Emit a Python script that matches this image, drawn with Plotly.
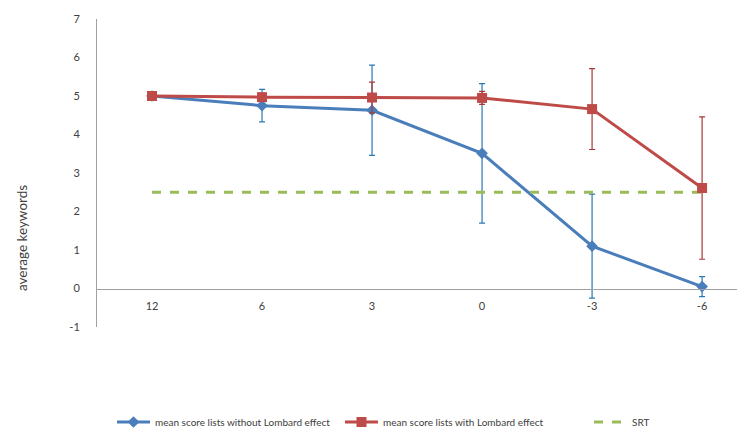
import plotly.graph_objects as go

categories = ["12", "6", "3", "0", "-3", "-6"]
without_lombard = [5.0, 4.75, 4.63, 3.51, 1.10, 0.05]
without_err = [0.0, 0.42, 1.17, 1.81, 1.35, 0.26]
with_lombard = [5.0, 4.97, 4.96, 4.95, 4.66, 2.61]
with_err = [0.0, 0.1, 0.40, 0.17, 1.05, 1.85]
srt = [2.5, 2.5, 2.5, 2.5, 2.5, 2.5]
yticks = [-1, 0, 1, 2, 3, 4, 5, 6, 7]
ytick_labels = ["-1", "0", "1", "2", "3", "4", "5", "6", "7"]

FONT = "Lato"
xs = list(range(len(categories)))

# page body has a default 8px margin; work in figure pixels = reference - 8
OFF = 8
W, H = 745 - OFF, 430 - OFF

fig = go.Figure()
fig.add_trace(go.Scatter(
    x=xs, y=without_lombard, mode="lines+markers",
    name="mean score lists without Lombard effect", legend="legend",
    line=dict(color="#4A7EBB", width=3),
    marker=dict(symbol="diamond", size=9, color="#4A7EBB"),
    error_y=dict(type="data", array=without_err, symmetric=True,
                 color="#2A7AB0", thickness=1.2, width=3),
))
fig.add_trace(go.Scatter(
    x=xs, y=srt, mode="lines", name="SRT", legend="legend3",
    line=dict(color="#9BBB59", width=3, dash="dash"),
))
fig.add_trace(go.Scatter(
    x=xs, y=with_lombard, mode="lines+markers", legend="legend2",
    name="mean score lists with Lombard effect",
    line=dict(color="#BE4B48", width=3),
    marker=dict(symbol="square", size=10, color="#BE4B48"),
    error_y=dict(type="data", array=with_err, symmetric=True,
                 color="#A83A38", thickness=1.2, width=3),
))

top = 19 - OFF
plot_bottom = 327 - OFF
left = 97 - OFF
bottom = H - plot_bottom
plot_h = plot_bottom - top
plot_w = W - left


def legend_at(ref_x):
    return dict(orientation="h", x=(ref_x - OFF - 5 - left) / plot_w,
                xanchor="left", y=(plot_bottom - (422 - OFF)) / plot_h,
                yanchor="middle", bgcolor="rgba(0,0,0,0)",
                font=dict(family=FONT, size=10, color="#404040"),
                itemwidth=33)


fig.update_layout(
    width=W, height=H,
    margin=dict(l=left, r=0, t=top, b=bottom, autoexpand=False),
    paper_bgcolor="white", plot_bgcolor="white",
    font=dict(family=FONT, size=11, color="#404040"),
    showlegend=True,
    legend=legend_at(117),
    legend2=legend_at(345),
    legend3=legend_at(594),
    xaxis=dict(
        range=[-0.5, 5.39], tickmode="array", tickvals=xs, ticktext=categories,
        showgrid=False, zeroline=False, showline=True, linecolor="#A0A0A0",
        linewidth=1, anchor="free", position=1 / 8, ticks="",
        ticklabelstandoff=7,
    ),
    yaxis=dict(
        range=[-1, 7], tickmode="array", tickvals=yticks, ticktext=ytick_labels,
        showgrid=False, zeroline=False, showline=True, linecolor="#A0A0A0",
        linewidth=1, ticks="", ticklabelstandoff=14,
    ),
)
fig.add_annotation(
    text="average keywords", xref="paper", yref="paper",
    x=(22 - OFF - left) / plot_w, y=(plot_bottom - (238 - OFF)) / plot_h,
    showarrow=False, textangle=-90,
    font=dict(family=FONT, size=13.5, color="#404040"),
    xanchor="center", yanchor="middle",
)
fig.write_html("out.html")
